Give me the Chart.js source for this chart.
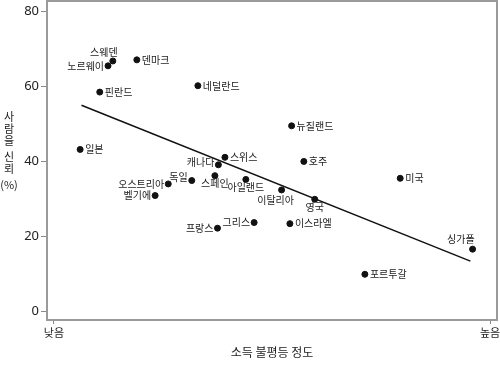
<!DOCTYPE html>
<html>
<head>
<meta charset="utf-8">
<script src="https://cdn.jsdelivr.net/npm/chart.js@4/dist/chart.umd.min.js"></script>
<style>
  html, body { margin: 0; padding: 0; background: #fff; }
  #wrap { width: 500px; height: 365px; }
</style>
</head>
<body>
<div id="wrap"><canvas id="trustChart"></canvas></div>
<script>
// data (x: 0 = 낮음, 100 = 높음)
const countries = ["스웨덴", "노르웨이", "덴마크", "핀란드", "네덜란드", "일본", "뉴질랜드", "스위스",
    "캐나다", "호주", "미국", "독일", "스페인", "아일랜드", "오스트리아", "이탈리아", "벨기에",
    "영국", "그리스", "이스라엘", "프랑스", "싱가폴", "포르투갈"];
const inequality = [13.5, 12.4, 19.0, 10.5, 33.0, 6.0, 54.5, 39.2, 37.7, 57.3, 79.4, 31.6, 36.9,
    44.0, 26.2, 52.2, 23.2, 59.8, 45.9, 54.1, 37.5, 96.0, 71.3];
const trust = [66.7, 65.4, 67.0, 58.4, 60.1, 43.1, 49.4, 41.0, 39.0, 39.9, 35.4, 34.8, 36.1,
    35.1, 33.9, 32.3, 30.8, 29.8, 23.6, 23.3, 22.1, 16.5, 9.8];

const trendX = [6.3, 95.5];
const trendY = [54.9, 13.3];

const yTicks = [0, 20, 40, 60, 80];
const xTicks = [0, 100];
const xTickLabels = ["낮음", "높음"];

const xTitle = "소득 불평등 정도";
const yTitle = "사람을 신뢰 (%)";

// where each country's name sits relative to its dot
const labelSide = ["tl", "l", "r", "r", "r", "r", "r", "r", "lu", "r", "r", "lu", "b", "b", "l",
    "bl", "l", "b", "l", "r", "l", "ul", "r"];

const KR_FONT = "'Noto Sans CJK KR', 'Noto Sans', sans-serif";

const sidePlace = {
    r:  { align: "left",   dx: 5,  dy: 0 },
    l:  { align: "right",  dx: -4, dy: 0 },
    lu: { align: "right",  dx: -4, dy: -3 },
    b:  { align: "center", dx: 0,  dy: 8 },
    bl: { align: "center", dx: -6, dy: 10 },
    tl: { align: "center", dx: -9, dy: -9 },
    ul: { align: "right",  dx: 2,  dy: -10 }
};

const frame = {
    id: "frame",
    beforeDatasetsDraw(chart) {
        const { ctx, chartArea: a } = chart;
        ctx.save();
        ctx.strokeStyle = "#9a9a9a";
        ctx.lineWidth = 2;
        ctx.strokeRect(a.left, a.top, a.right - a.left, a.bottom - a.top);
        ctx.restore();
    }
};

const pointLabels = {
    id: "pointLabels",
    afterDatasetsDraw(chart) {
        const { ctx } = chart;
        const meta = chart.getDatasetMeta(0);
        ctx.save();
        ctx.font = "10px " + KR_FONT;
        ctx.fillStyle = "#222";
        ctx.textBaseline = "middle";
        meta.data.forEach((pt, i) => {
            const p = sidePlace[labelSide[i]];
            ctx.textAlign = p.align;
            ctx.fillText(countries[i], pt.x + p.dx, pt.y + p.dy);
        });
        ctx.restore();
    }
};

// stacked vertical y title
const stackedTitle = {
    id: "stackedTitle",
    afterDraw(chart) {
        const { ctx } = chart;
        ctx.save();
        ctx.font = "11px " + KR_FONT;
        ctx.fillStyle = "#222";
        ctx.textAlign = "center";
        ctx.textBaseline = "middle";
        let y = 117;
        yTitle.split(" ").forEach(word => {
            const pieces = /^[가-힣]+$/.test(word) ? word.split("") : [word];
            pieces.forEach(ch => {
                ctx.fillText(ch, 9, y);
                y += 12;
            });
            y += 4;
        });
        ctx.restore();
    }
};

new Chart(document.getElementById("trustChart"), {
    data: {
        datasets: [{
            type: "scatter",
            data: countries.map((c, i) => ({ x: inequality[i], y: trust[i] })),
            backgroundColor: "#111",
            borderColor: "#111",
            pointRadius: 3,
            pointHoverRadius: 3
        }, {
            type: "line",
            data: trendX.map((x, i) => ({ x, y: trendY[i] })),
            borderColor: "#111",
            borderWidth: 1.5,
            pointRadius: 0,
            fill: false
        }]
    },
    options: {
        responsive: true,
        maintainAspectRatio: false,
        animation: false,
        events: [],
        layout: { autoPadding: false, padding: { top: 1, right: 3, left: 0, bottom: 0 } },
        plugins: {
            legend: { display: false },
            tooltip: { enabled: false }
        },
        scales: {
            x: {
                type: "linear",
                min: -1.6,
                max: 101.6,
                afterBuildTicks: s => { s.ticks = xTicks.map(v => ({ value: v })); },
                afterFit: s => {
                    s.height = 45;
                    s.paddingLeft = 0;
                    s.paddingRight = 0;
                },
                ticks: {
                    callback: v => xTickLabels[xTicks.indexOf(v)],
                    font: { family: KR_FONT, size: 11 },
                    color: "#222",
                    padding: 2,
                    maxRotation: 0
                },
                grid: { drawOnChartArea: false, tickLength: 4, color: "#888" },
                border: { display: false },
                title: {
                    display: true,
                    text: xTitle,
                    font: { family: KR_FONT, size: 12 },
                    color: "#222",
                    padding: { top: 0, bottom: 5 }
                }
            },
            y: {
                type: "linear",
                min: -2.4,
                max: 82.7,
                afterBuildTicks: s => { s.ticks = yTicks.map(v => ({ value: v })); },
                afterFit: s => {
                    s.width = 47;
                    s.paddingTop = 0;
                    s.paddingBottom = 0;
                },
                ticks: {
                    font: { family: "'Noto Sans', sans-serif", size: 13 },
                    color: "#222",
                    padding: 2
                },
                grid: { drawOnChartArea: false, tickLength: 6, color: "#888" },
                border: { display: false }
            }
        }
    },
    plugins: [frame, pointLabels, stackedTitle]
});
</script>
</body>
</html>
